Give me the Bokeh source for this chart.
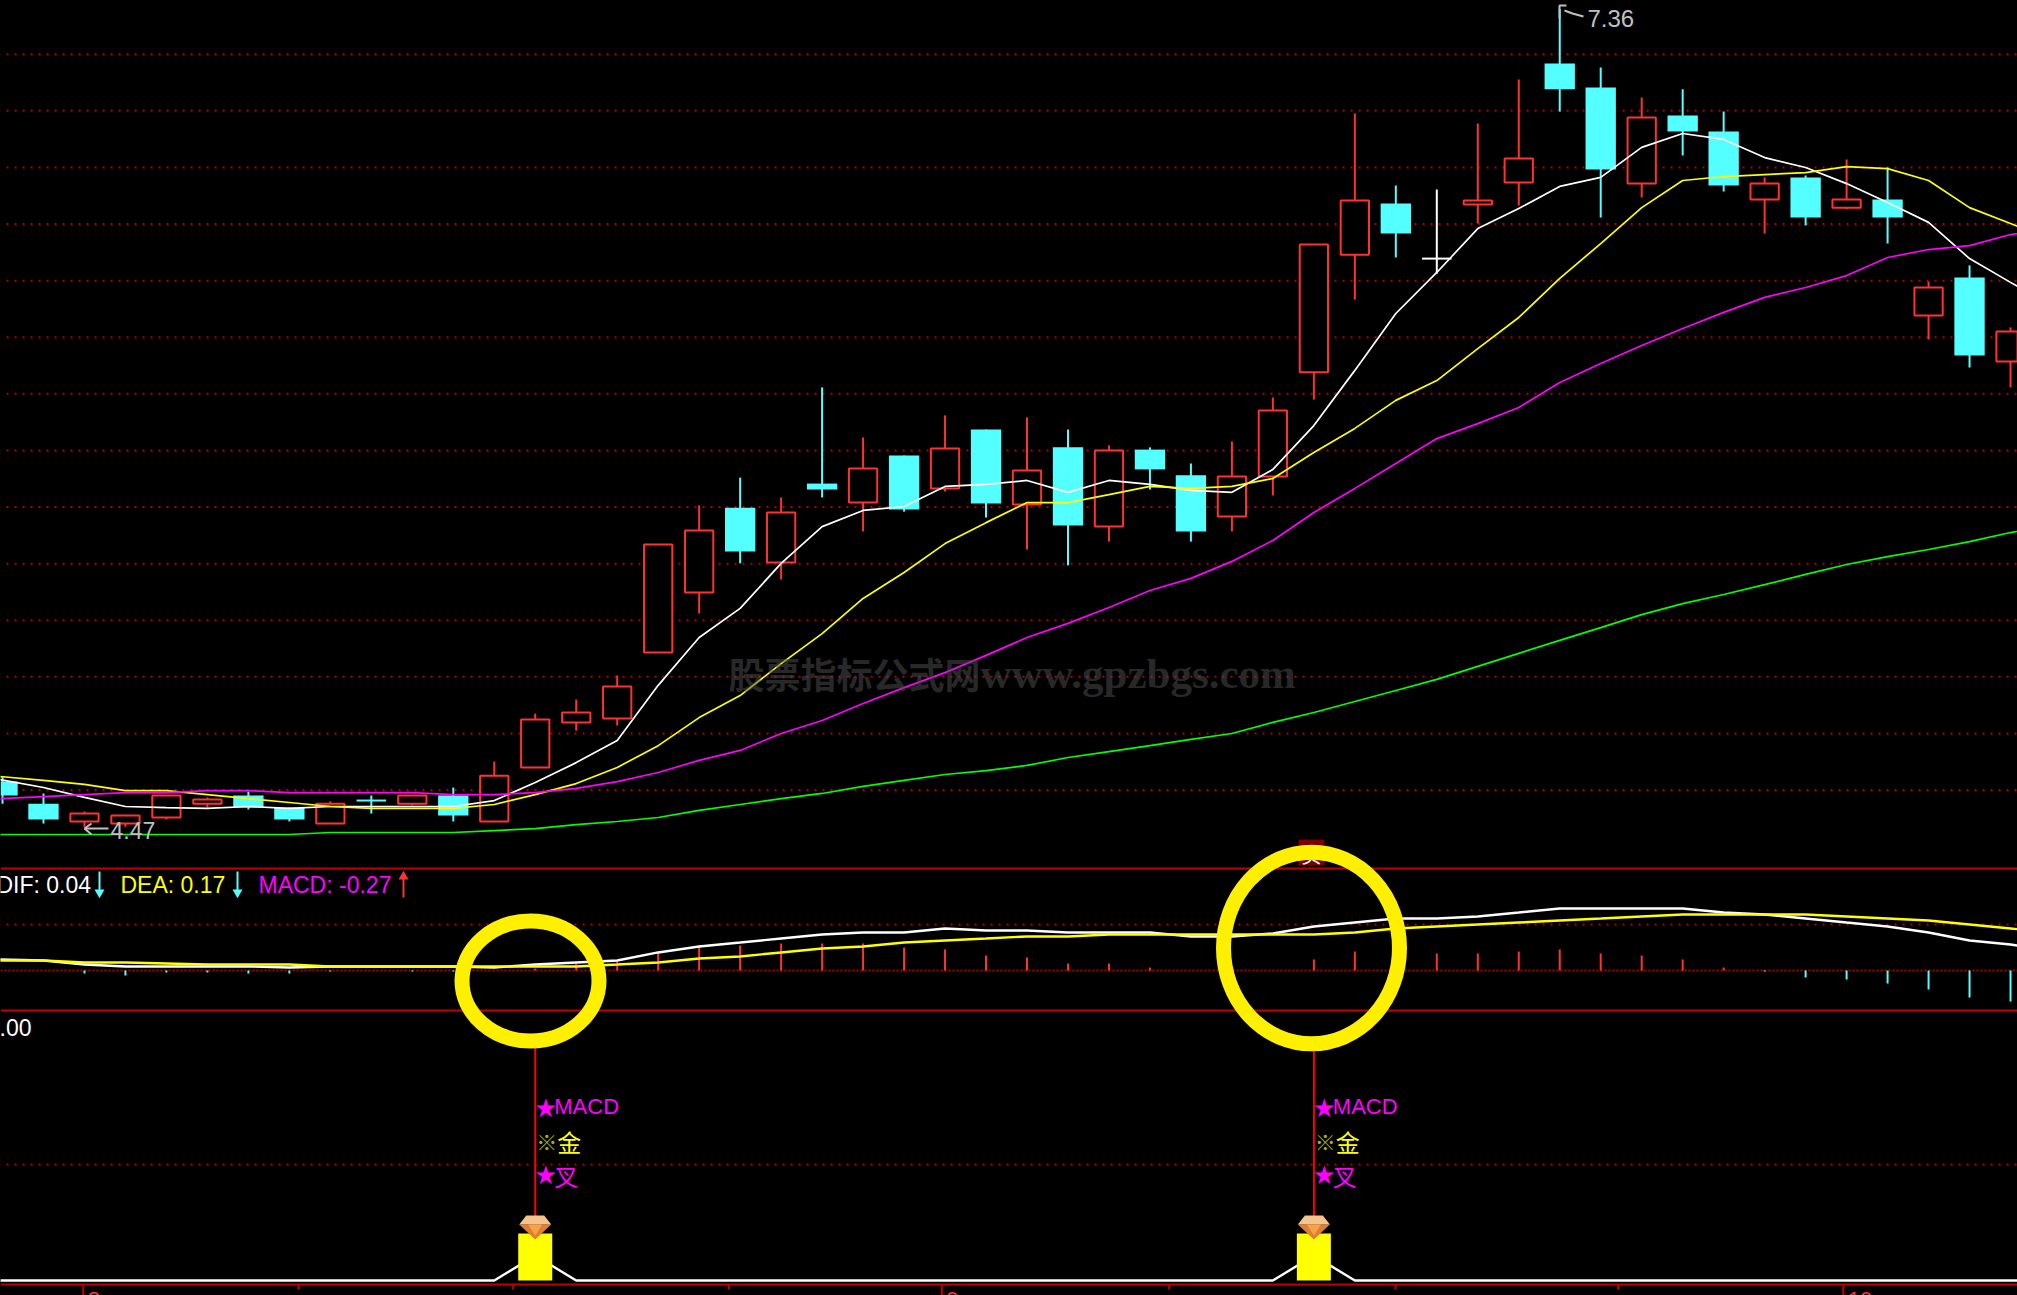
from bokeh.plotting import figure
from bokeh.models import Range1d
from bokeh.core.properties import value
from bokeh.embed import file_html
from bokeh.resources import INLINE

# ---- price panel (OHLC per bar) ----
opens = [4.630,4.552,4.489,4.482,4.503,4.552,4.581,4.538,4.482,4.563,4.552,4.581,4.489,4.680,4.839,4.853,
         5.086,5.298,5.598,5.404,5.683,5.616,5.782,5.666,5.874,5.609,5.811,5.531,5.803,5.712,5.567,5.708,
         6.076,6.492,6.673,6.478,6.669,6.747,7.167,7.083,6.743,6.984,6.927,6.687,6.765,6.658,6.687,6.277,
         6.411,6.114]
highs = [4.648,4.588,4.524,4.510,4.581,4.574,4.595,4.538,4.560,4.581,4.581,4.609,4.701,4.870,4.920,5.005,
         5.468,5.606,5.704,5.634,6.023,5.846,5.782,5.924,5.874,5.917,5.874,5.818,5.811,5.754,5.832,5.987,
         6.528,6.991,6.736,6.722,6.955,7.111,7.360,7.153,7.047,7.076,6.998,6.765,6.772,6.828,6.800,6.397,
         6.454,6.235]
lows = [4.552,4.482,4.470,4.470,4.496,4.538,4.531,4.489,4.482,4.517,4.546,4.489,4.489,4.680,4.810,4.828,
        5.086,5.224,5.401,5.344,5.634,5.514,5.584,5.655,5.563,5.450,5.394,5.478,5.662,5.478,5.514,5.641,
        5.980,6.333,6.482,6.425,6.602,6.666,6.998,6.623,6.694,6.842,6.715,6.567,6.595,6.652,6.531,6.192,
        6.093,6.023]
closes = [4.581,4.496,4.517,4.510,4.581,4.567,4.538,4.496,4.552,4.561,4.581,4.510,4.651,4.849,4.874,4.966,
          5.468,5.517,5.443,5.581,5.662,5.736,5.591,5.807,5.613,5.729,5.535,5.800,5.733,5.514,5.708,5.941,
          6.528,6.683,6.567,6.478,6.683,6.832,7.076,6.793,6.977,6.927,6.736,6.743,6.623,6.687,6.623,6.376,
          6.136,6.220]

ma5 = [4.637,4.609,4.574,4.542,4.538,4.535,4.542,4.535,4.542,4.542,4.542,4.542,4.563,4.627,4.697,4.775,
       4.970,5.139,5.242,5.401,5.531,5.588,5.602,5.673,5.680,5.694,5.652,5.694,5.680,5.659,5.652,5.733,
       5.888,6.083,6.284,6.429,6.584,6.655,6.733,6.765,6.871,6.920,6.899,6.835,6.800,6.743,6.676,6.606,
       6.478,6.394,6.312]
ma10 = [4.648,4.634,4.620,4.598,4.598,4.584,4.570,4.556,4.542,4.535,4.535,4.535,4.549,4.584,4.623,4.680,
        4.757,4.856,4.934,5.047,5.153,5.277,5.369,5.471,5.545,5.616,5.616,5.644,5.673,5.666,5.673,5.701,
        5.793,5.878,5.977,6.047,6.160,6.270,6.408,6.531,6.658,6.754,6.768,6.775,6.782,6.803,6.796,6.754,
        6.658,6.602,6.542]
ma20 = [4.570,4.577,4.584,4.591,4.591,4.598,4.598,4.591,4.591,4.591,4.591,4.584,4.584,4.591,4.606,4.630,
        4.662,4.705,4.740,4.800,4.846,4.906,4.962,5.015,5.076,5.139,5.189,5.245,5.305,5.348,5.408,5.482,
        5.581,5.666,5.754,5.842,5.895,5.952,6.040,6.107,6.171,6.231,6.288,6.341,6.376,6.418,6.482,6.510,
        6.524,6.563,6.584]
ma60 = [4.443,4.443,4.443,4.443,4.443,4.443,4.443,4.443,4.450,4.450,4.450,4.450,4.457,4.464,4.478,4.489,
        4.503,4.528,4.549,4.570,4.588,4.613,4.634,4.655,4.669,4.687,4.715,4.736,4.757,4.779,4.800,4.839,
        4.874,4.913,4.952,4.991,5.037,5.083,5.129,5.174,5.220,5.259,5.291,5.326,5.362,5.397,5.425,5.450,
        5.478,5.510,5.535]
price_grid = [7.2,7.0,6.8,6.6,6.4,6.2,6.0,5.8,5.6,5.4,5.2,5.0,4.8,4.6]

# ---- MACD panel ----
dif = [.096,.087,.052,.035,.035,.035,.035,.026,.035,.035,.035,.035,.026,.052,.070,.087,.157,.209,.243,.278,
       .313,.330,.330,.365,.348,.348,.330,.330,.330,.296,.296,.322,.383,.417,.452,.452,.470,.504,.539,.539,
       .539,.539,.504,.487,.452,.417,.383,.330,.261,.226,.174]
dea = [.087,.087,.070,.070,.061,.052,.052,.052,.035,.035,.035,.035,.035,.035,.035,.052,.070,.104,.122,.157,
       .191,.209,.243,.261,.278,.296,.296,.313,.313,.313,.313,.313,.313,.330,.365,.383,.400,.417,.435,.452,
       .470,.487,.487,.487,.487,.470,.452,.435,.400,.365,.330]
macd = [0,0,-.026,-.043,-.017,-.017,-.026,-.026,-.009,0,-.009,-.009,0,.017,.061,.078,.165,.217,.217,.235,
        .235,.235,.2,.183,.13,.113,.061,.061,.026,0,0,0,.096,.165,.165,.148,.148,.165,.183,.148,.13,.096,
        .026,-.009,-.061,-.078,-.113,-.165,-.235,-.27]
macd_grid = [0.4]

# ---- signal panel ----
signal_bars = [13, 32]
signal_heights = [1.0, 1.0]
signal_curve = [0.53 if i in (13, 32) else 0.0 for i in range(51)]
signal_grid = [2.468]
date_ticks = [1.97, 7.22, 12.46, 17.72, 22.92, 28.47, 33.99, 39.42, 44.92]
date_major = [1.97, 22.92, 44.92]
date_labels = ["8", "9", "10"]

# ---- page geometry helpers (screen pixels to data) ----
W, H = 2017, 1295
STEP = 40.98
def xd(px): return (px - 2) / STEP
def ym(py): return 7.39 - py / 283.0
def yc(py): return (970 - py) / 115.0
def ys(py): return (1280 - py) / 47.0

RED, CYAN = "#ff3232", "#54ffff"
DOT, BORDER = "#b00000", "#c00000"
GREY = "#c0c0c0"

p = figure(width=W, height=H, output_backend="svg", toolbar_location=None,
           x_range=Range1d(xd(0), xd(W)), y_range=Range1d(ym(H), ym(0)),
           x_axis_location=None, y_axis_location=None,
           background_fill_color="black", border_fill_color="black",
           outline_line_color=None, min_border=0)
p.grid.visible = False
p.extra_y_ranges = {"macd": Range1d(yc(H), yc(0)), "sig": Range1d(ys(H), ys(0))}

# grid and panel frames
xl, xr = xd(6), xd(W)
p.segment([xl]*len(price_grid), price_grid, [xr]*len(price_grid), price_grid,
          line_color=DOT, line_width=2, line_dash="2 6")
p.segment([xl]*len(macd_grid), macd_grid, [xr]*len(macd_grid), macd_grid,
          line_color=DOT, line_width=2, line_dash="2 6", y_range_name="macd")
p.segment([xd(0)], [0], [xr], [0], line_color=DOT, line_width=2, line_dash="2 2", y_range_name="macd")
p.segment([xl]*len(signal_grid), signal_grid, [xr]*len(signal_grid), signal_grid,
          line_color=DOT, line_width=2, line_dash="2 6", y_range_name="sig")
for py in (868, 1010, 1284):
    p.segment([xd(0)], [ym(py)], [xr], [ym(py)], line_color=BORDER, line_width=2)

# candles
n = len(opens)
xs = list(range(n))
cols = [RED if c > o else (CYAN if c < o else "white") for o, c in zip(opens, closes)]
p.segment(xs, lows, xs, highs, line_color=cols, line_width=2)
body = [i for i in xs if abs(opens[i] - closes[i]) >= 0.005]
doji = [i for i in xs if abs(opens[i] - closes[i]) < 0.005]
red_b = [i for i in body if cols[i] == RED]
cyan_b = [i for i in body if cols[i] == CYAN]
p.vbar(x=red_b, bottom=[opens[i] for i in red_b], top=[closes[i] for i in red_b], width=0.69,
       fill_color="black", line_color=RED, line_width=2)
p.vbar(x=cyan_b, bottom=[closes[i] for i in cyan_b], top=[opens[i] for i in cyan_b], width=0.74,
       fill_color=CYAN, line_color=None)
p.segment([i-0.36 for i in doji], [opens[i] for i in doji], [i+0.36 for i in doji], [opens[i] for i in doji],
          line_color=[cols[i] for i in doji], line_width=2)

# moving averages
xl_ma = [-0.06] + list(range(1, 51))
p.line(xl_ma, ma60, line_color="#00ff00", line_width=1.7)
p.line(xl_ma, ma5, line_color="white", line_width=1.7)
p.line(xl_ma, ma10, line_color="#ffff00", line_width=1.7)
p.line(xl_ma, ma20, line_color="#ff00ff", line_width=1.7)

# high / low markers
p.multi_line([[xd(1559), xd(1559), xd(1566)], [xd(1564), xd(1572), xd(1583)]],
             [[ym(18), ym(5), ym(5)], [ym(10), ym(13), ym(16)]], line_color=GREY, line_width=2)
p.text([xd(1587)], [ym(18)], text=["7.36"], text_color=GREY, text_font=value("Liberation Sans"),
       text_font_size="24px", text_baseline="alphabetic")
p.multi_line([[xd(84), xd(108)], [xd(84), xd(91)], [xd(84), xd(91)]],
             [[ym(828), ym(828)], [ym(828), ym(823)], [ym(828), ym(834)]], line_color=GREY, line_width=2)
p.text([xd(110)], [ym(830)], text=["4.47"], text_color=GREY, text_font=value("Liberation Sans"),
       text_font_size="23px", text_baseline="alphabetic")

# MACD histogram and lines
hx_r = [i for i in xs if macd[i] > 0]
hx_c = [i for i in xs if macd[i] < 0]
p.segment(hx_r, [0]*len(hx_r), hx_r, [macd[i] for i in hx_r], line_color=RED, line_width=2, y_range_name="macd")
p.segment(hx_c, [0]*len(hx_c), hx_c, [macd[i] for i in hx_c], line_color=CYAN, line_width=2, y_range_name="macd")
p.line(xl_ma, dif, line_color="white", line_width=2.4, y_range_name="macd")
p.line(xl_ma, dea, line_color="#ffff00", line_width=2.4, y_range_name="macd")

# MACD header
hdr = [("DIF: 0.04", -4, "white"), ("DEA: 0.17", 120, "#ffff00"), ("MACD: -0.27", 258, "#ff00ff")]
for t, px, c in hdr:
    p.text([xd(px)], [ym(884.5)], text=[t], text_color=c, text_font=value("Liberation Sans"),
           text_font_size="23px", text_baseline="alphabetic")
for px in (99, 237):
    p.segment([xd(px)], [ym(871)], [xd(px)], [ym(892)], line_color=CYAN, line_width=2)
    p.scatter([xd(px)], [ym(892)], marker="inverted_triangle", size=10, fill_color=CYAN, line_color=None)
p.segment([xd(403)], [ym(876)], [xd(403)], [ym(897)], line_color=RED, line_width=2)
p.scatter([xd(403)], [ym(876)], marker="triangle", size=10, fill_color=RED, line_color=None)
p.text([xd(-1)], [ym(1027)], text=[".00"], text_color="white", text_font=value("Liberation Sans"),
       text_font_size="23px", text_baseline="alphabetic")

# signal panel
p.line(xl_ma, signal_curve, line_color="white", line_width=2.4, y_range_name="sig")
p.vbar(x=signal_bars, bottom=0, top=signal_heights, width=0.83, fill_color="#ffff00", line_color=None,
       y_range_name="sig")
for b in signal_bars:
    p.segment([b], [ys(1216)], [b], [ys(1040)], line_color="#ff0000", line_width=2, y_range_name="sig")
    d = lambda dx: b + dx / STEP
    p.patches([[d(-16), d(16), d(0)], [d(-16), d(-9), d(9), d(16)], [d(-7), d(7), d(0)]],
              [[ys(1224), ys(1224), ys(1239)], [ys(1224), ys(1215), ys(1215), ys(1224)],
               [ys(1224), ys(1224), ys(1235)]],
              fill_color=["#e07f32", "#f5c48c", "#f6a24a"], line_color=None, y_range_name="sig")
    for txt, dx, py, col, sz, fnt in [("★", 0, 1105, "#ff00ff", "21px", "Noto Sans CJK SC"),
                                      ("MACD", 19, 1106, "#ff00ff", "22px", "Liberation Sans"),
                                      ("※", 1, 1140, "#b0b000", "21px", "Noto Sans CJK SC"),
                                      ("金", 22, 1141, "#ffff00", "24px", "Noto Sans CJK SC"),
                                      ("★", 0, 1172, "#ff00ff", "21px", "Noto Sans CJK SC"),
                                      ("叉", 19, 1175, "#ff00ff", "24px", "Noto Sans CJK SC")]:
        p.text([d(dx)], [ys(py)], text=[txt], text_color=col, text_font=value(fnt), text_font_size=sz,
               text_baseline="alphabetic", y_range_name="sig")

# time axis ticks and clipped month labels
tk_end = [1295 if t in date_major else 1289 for t in date_ticks]
p.segment(date_ticks, [ym(1284)]*len(date_ticks), date_ticks, [ym(e) for e in tk_end],
          line_color=BORDER, line_width=2)
for t, lab in zip(date_major, date_labels):
    p.text([t + 4.5/STEP], [ym(1299)], text=[lab], text_color=RED, text_font=value("Liberation Sans"),
           text_font_size="22px", text_baseline="alphabetic")

# buy tag under the second ring
p.quad(left=[xd(1298)], right=[xd(1324)], bottom=[ym(865)], top=[ym(839)], fill_color="#7a0000", line_color=None)
p.text([xd(1311)], [ym(854)], text=["买"], text_color="white", text_font=value("Noto Sans CJK SC"),
       text_font_size="20px", text_align="center", text_baseline="alphabetic")

# yellow rings
p.ellipse(x=[xd(530), xd(1311)], y=[ym(980.5), ym(947.5)], width=[137, 176], height=[120, 191.5],
          width_units="screen", height_units="screen", fill_color=None, line_color="#fff000", line_width=15)

# watermark
p.text([xd(728)], [ym(672)], text=["股票指标公式网"], text_color="#505050", text_alpha=0.5,
       text_font=value("Noto Sans CJK SC"), text_font_size="36px", text_font_style="bold",
       text_baseline="alphabetic")
p.text([xd(980)], [ym(672.5)], text=["www.gpzbgs.com"], text_color="#505050", text_alpha=0.5,
       text_font=value("Liberation Serif"), text_font_size="43px", text_font_style="bold",
       text_baseline="alphabetic")

html = file_html(p, INLINE).replace("</head>", "<style>html,body{margin:0;padding:0;background:#000;overflow:hidden}</style></head>")
open("out.html", "w", encoding="utf-8").write(html)
